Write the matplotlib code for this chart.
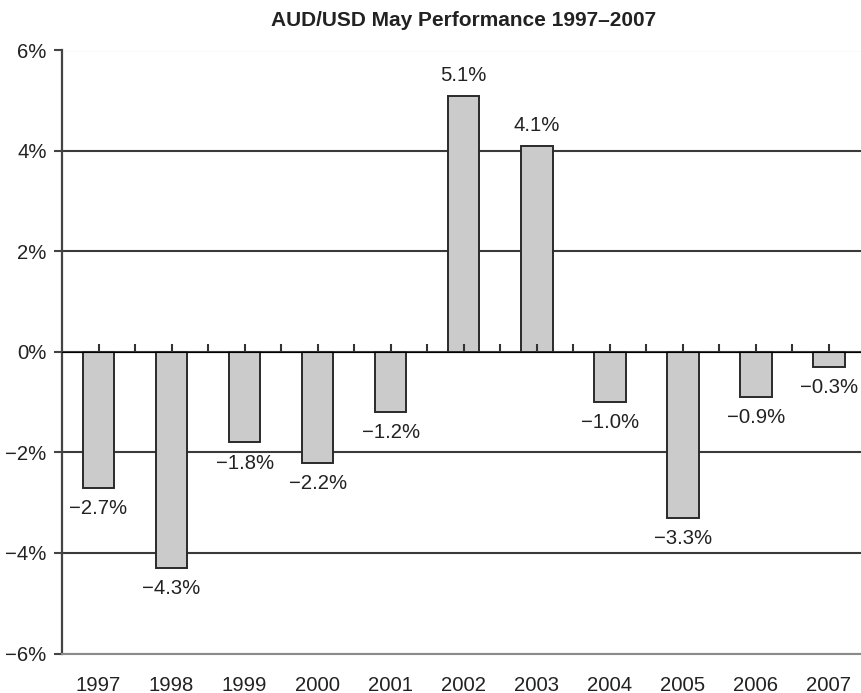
import matplotlib
matplotlib.use("Agg")
import matplotlib.pyplot as plt
from matplotlib.ticker import FuncFormatter
import numpy as np

years = ["1997", "1998", "1999", "2000", "2001", "2002", "2003", "2004", "2005", "2006", "2007"]
values = [-2.7, -4.3, -1.8, -2.2, -1.2, 5.1, 4.1, -1.0, -3.3, -0.9, -0.3]
yticks = [-6, -4, -2, 0, 2, 4, 6]
title = "AUD/USD May Performance 1997\u20132007"

plt.rcParams['font.family'] = ['Liberation Sans', 'DejaVu Sans']
plt.rcParams['axes.unicode_minus'] = True

fig = plt.figure(figsize=(8.61, 6.93), dpi=100)
ax = fig.add_axes([62 / 861, 1 - 653.5 / 693, (865.5 - 62) / 861, (653.5 - 50.5) / 693])

x = np.arange(len(years))
bars = ax.bar(x, values, width=0.43, color="#cbcbcb", edgecolor="#2a2a2a",
              linewidth=1.4, zorder=3)

def fmt_val(v):
    s = f"{abs(v):.1f}%"
    return ("\u2212" + s) if v < 0 else s

for xi, v in zip(x, values):
    off = 8 if v >= 0 else -8
    ax.annotate(fmt_val(v), (xi, v), xytext=(0, off), textcoords="offset points",
                ha="center", va="bottom" if v >= 0 else "top",
                fontsize=14.6, color="#222222", zorder=5)

ax.set_xlim(-0.5, len(years) - 0.5)
ax.set_ylim(yticks[0], yticks[-1])
ax.set_yticks(yticks)
ax.yaxis.set_major_formatter(FuncFormatter(
    lambda v, p: ("\u2212" if v < 0 else "") + f"{abs(int(v))}%"))
ax.tick_params(axis="y", labelsize=14.6, length=6, width=1.5, color="#444444",
               pad=5, labelcolor="#222222")

ax.set_xticks(x)
ax.set_xticklabels(years)
ax.tick_params(axis="x", labelsize=14.6, length=0, pad=16, labelcolor="#222222")

ax.yaxis.grid(True, color="#3a3a3a", linewidth=1.5, zorder=1)
ax.set_axisbelow(True)
gl = ax.get_ygridlines()
gl[-1].set_color("#9a9a9a")
gl[0].set_color("#8a8a8a")

for s in ["top", "right"]:
    ax.spines[s].set_visible(False)
ax.spines["left"].set_color("#444444")
ax.spines["left"].set_linewidth(1.6)
ax.spines["bottom"].set_color("#8a8a8a")
ax.spines["bottom"].set_linewidth(1.5)

# small ticks hanging from the zero line
sec = ax.secondary_xaxis(0.5)
sec.set_xticks(np.arange(0, len(years), 0.5))
sec.set_xticklabels([])
sec.tick_params(axis="x", direction="out", length=6, width=1.5, color="#333333")
sec.spines["bottom"].set_visible(False)
sec.set_zorder(4)

ax.text(0.5, 1 - (20 - 50.5) / -603.0 + 0.0, "", transform=ax.transAxes)
fig.text((62 + 865.5) / 2 / 861, 1 - 20 / 693, title, ha="center", va="center",
         fontsize=15, fontweight="bold", color="#222222")

fig.savefig("out.png", dpi=100, facecolor="white")
